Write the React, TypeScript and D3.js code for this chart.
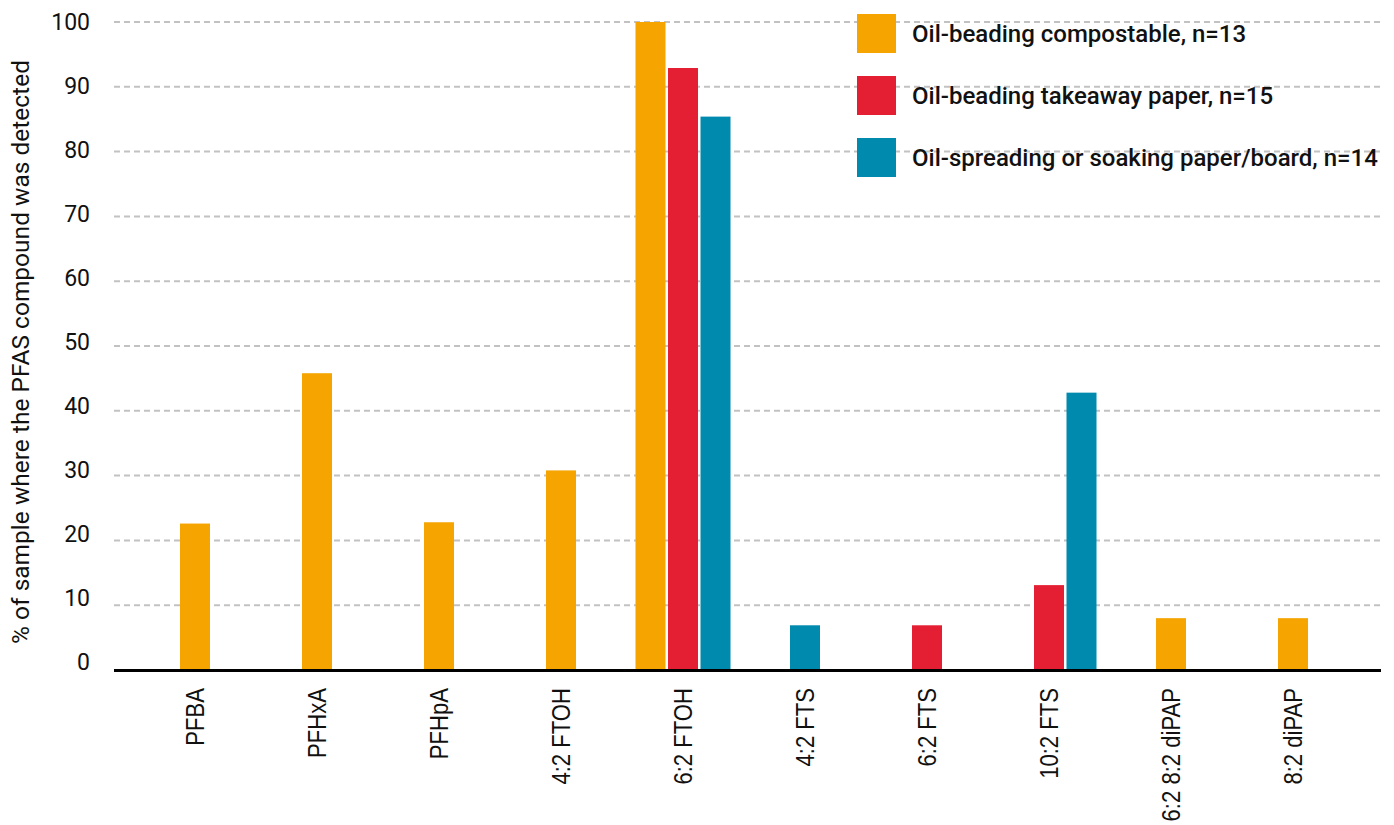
import { useEffect, useRef } from "react";
import * as d3 from "d3";

const compounds = ["PFBA", "PFHxA", "PFHpA", "4:2 FTOH", "6:2 FTOH", "4:2 FTS", "6:2 FTS", "10:2 FTS", "6:2 8:2 diPAP", "8:2 diPAP"];

const compostable = [22.6, 45.8, 22.8, 30.8, 100, null, null, 0, 8.0, 8.0];
const takeaway = [null, null, null, null, 92.9, null, 6.9, 13.1, null, null];
const soaking = [null, null, null, null, 85.4, 6.9, null, 42.8, null, null];

const seriesNames = [
  "Oil-beading compostable, n=13",
  "Oil-beading takeaway paper, n=15",
  "Oil-spreading or soaking paper/board, n=14",
];
const seriesColors = ["#f5a400", "#e41f33", "#008aad"];

const yTicks = [0, 10, 20, 30, 40, 50, 60, 70, 80, 90, 100];

function App() {
  const svgRef = useRef<SVGSVGElement | null>(null);

  useEffect(() => {
    const width = 1394;
    const height = 825;
    const svg = d3.select(svgRef.current).attr("width", width).attr("height", height);
    svg.selectAll("*").remove();

    const allSeries = [compostable, takeaway, soaking];

    const x = d3.scaleBand<string>().domain(compounds).range([134, 1354]).padding(0);
    const y = d3.scaleLinear().domain([0, 100]).range([670, 22]);
    const yLabel = d3.scaleLinear().domain([0, 100]).range([662, 22]);

    const barW = 30;
    const barStep = 32.5;
    const gridLeft = 114;
    const gridRight = 1381;

    // gridlines
    svg.append("g")
      .selectAll("line")
      .data(yTicks.filter((t) => t > 0))
      .enter()
      .append("line")
      .attr("x1", gridLeft)
      .attr("x2", gridRight)
      .attr("y1", (d) => y(d))
      .attr("y2", (d) => y(d))
      .attr("stroke", "#c2c2c2")
      .attr("stroke-width", 2)
      .attr("stroke-dasharray", "6,4");

    // y tick labels
    svg.append("g")
      .selectAll("text")
      .data(yTicks)
      .enter()
      .append("text")
      .attr("x", 90)
      .attr("y", (d) => yLabel(d))
      .attr("dy", "0.35em")
      .attr("text-anchor", "end")
      .style("font-family", "Roboto")
      .style("font-size", "23px")
      .style("fill", "#111")
      .text((d) => d);

    // y title
    svg.append("text")
      .attr("transform", `translate(29,352) rotate(-90)`)
      .attr("text-anchor", "middle")
      .style("font-family", "Roboto")
      .style("font-size", "24.5px")
      .style("fill", "#111")
      .text("% of sample where the PFAS compound was detected");

    // bars: only series that have a value in a category, packed around the category centre
    type Bar = { cat: string; s: number; v: number; k: number; n: number };
    const bars: Bar[] = [];
    compounds.forEach((c, i) => {
      const present = allSeries
        .map((arr, s) => ({ s, v: arr[i] }))
        .filter((d) => d.v !== null) as { s: number; v: number }[];
      present.forEach((d, k) => bars.push({ cat: c, s: d.s, v: d.v, k, n: present.length }));
    });

    svg.append("g")
      .selectAll("rect")
      .data(bars)
      .enter()
      .append("rect")
      .attr("x", (d) => {
        const center = (x(d.cat) as number) + x.bandwidth() / 2;
        const total = barW + (d.n - 1) * barStep;
        return center - total / 2 + d.k * barStep;
      })
      .attr("y", (d) => y(d.v))
      .attr("width", barW)
      .attr("height", (d) => y(0) - y(d.v))
      .attr("fill", (d) => seriesColors[d.s]);

    // baseline
    svg.append("line")
      .attr("x1", gridLeft)
      .attr("x2", gridRight)
      .attr("y1", y(0) + 0.5)
      .attr("y2", y(0) + 0.5)
      .attr("stroke", "#000")
      .attr("stroke-width", 3);

    // x labels, rotated and narrow
    svg.append("g")
      .selectAll("text")
      .data(compounds)
      .enter()
      .append("text")
      .attr("transform", (d) => `translate(${(x(d) as number) + x.bandwidth() / 2 + 9},688) rotate(-90) scale(0.85,1)`)
      .attr("text-anchor", "end")
      .style("font-family", "Liberation Sans, Arial, sans-serif")
      .style("font-size", "26px")
      .style("fill", "#111")
      .text((d) => d);

    // legend
    const legend = svg.append("g").attr("transform", "translate(857,14)");
    const items = legend.selectAll("g")
      .data(seriesNames)
      .enter()
      .append("g")
      .attr("transform", (_, i) => `translate(0,${i * 62})`);

    items.append("rect")
      .attr("width", 39)
      .attr("height", 39)
      .attr("fill", (_, i) => seriesColors[i]);

    items.append("text")
      .attr("x", 55)
      .attr("y", 28)
      .style("font-family", "Roboto")
      .style("font-weight", 500)
      .style("font-size", "24px")
      .style("fill", "#111")
      .text((d) => d);
  }, []);

  return (
    <svg ref={svgRef} style={{ position: "absolute", left: 0, top: 0 }} width={1394} height={825}></svg>
  );
}

export default App;
